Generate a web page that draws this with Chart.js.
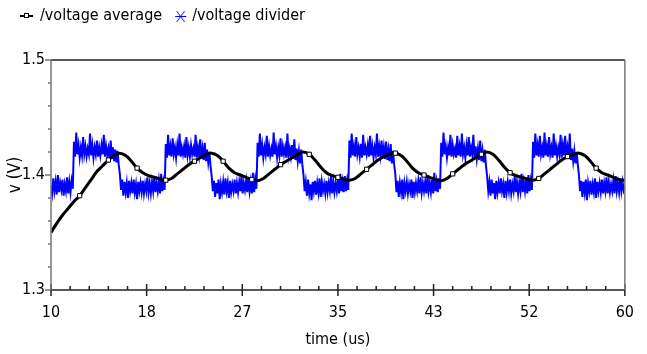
<!DOCTYPE html>
<html lang="en">
  <head>
    <meta charset="UTF-8" />
    <title>voltage average / voltage divider</title>
    <script src="https://cdn.jsdelivr.net/npm/chart.js@4"></script>
    <style>
      body {
        margin: 0;
        background: white;
      }
      #chart {
        display: block;
      }
    </style>
  </head>
  <body>
    <canvas id="chart" width="647" height="354"></canvas>

    <script>
      // axis ticks
      const xMajor = [10, 18.333, 26.667, 35, 43.333, 51.667, 60];
      const xLabels = ["10", "18", "27", "35", "43", "52", "60"];
      const yMajor = [1.3, 1.4, 1.5];
      const yLabels = ["1.3", "1.4", "1.5"];

      // /voltage average, sampled every 0.5 us from 10 us
      const avgStart = 10;
      const avgStep = 0.5;
      const avgVolts = [
        1.350, 1.358, 1.365, 1.371, 1.377, 1.382, 1.389, 1.396, 1.403, 1.408,
        1.413, 1.417, 1.419, 1.417, 1.412, 1.406, 1.402, 1.3995, 1.398, 1.3965,
        1.3955, 1.397, 1.401, 1.405, 1.409, 1.412, 1.415, 1.418, 1.419, 1.417,
        1.412, 1.406, 1.402, 1.400, 1.398, 1.396, 1.395, 1.397, 1.401, 1.405,
        1.409, 1.412, 1.415, 1.418, 1.420, 1.418, 1.413, 1.407, 1.402, 1.3995,
        1.398, 1.3965, 1.3955, 1.397, 1.401, 1.405, 1.409, 1.413, 1.416, 1.418,
        1.419, 1.417, 1.412, 1.406, 1.402, 1.400, 1.398, 1.396, 1.395, 1.397,
        1.401, 1.405, 1.409, 1.412, 1.415, 1.418, 1.420, 1.418, 1.413, 1.407,
        1.402, 1.3995, 1.398, 1.3965, 1.3955, 1.397, 1.401, 1.405, 1.409, 1.413,
        1.416, 1.418, 1.419, 1.417, 1.412, 1.406, 1.402, 1.400, 1.398, 1.396,
        1.3955
      ];

      // /voltage divider, sampled every 0.1 us from 10 us
      const divStart = 10;
      const divStep = 0.1;
      const divVolts = [
        // 10.0 - 11.9
        1.391, 1.384, 1.397, 1.386, 1.394, 1.383, 1.400, 1.385, 1.393, 1.387,
        1.396, 1.382, 1.392, 1.386, 1.398, 1.384, 1.394, 1.385, 1.395, 1.388,
        // 12.0 - 19.9
        1.429, 1.416, 1.437, 1.418, 1.426, 1.415, 1.424, 1.417, 1.433, 1.418,
        1.425, 1.416, 1.423, 1.418, 1.436, 1.417, 1.426, 1.415, 1.424, 1.418,
        1.430, 1.416, 1.424, 1.417, 1.426, 1.418, 1.435, 1.416, 1.425, 1.417,
        1.423, 1.415, 1.430, 1.414, 1.424, 1.412, 1.422, 1.411, 1.421, 1.409,
        1.401, 1.387, 1.396, 1.382, 1.394, 1.385, 1.393, 1.380, 1.395, 1.386,
        1.393, 1.384, 1.396, 1.385, 1.392, 1.379, 1.394, 1.386, 1.393, 1.385,
        1.395, 1.384, 1.392, 1.386, 1.398, 1.385, 1.393, 1.384, 1.394, 1.386,
        1.399, 1.385, 1.393, 1.386, 1.395, 1.384, 1.401, 1.386, 1.394, 1.387,
        // 20.0 - 27.9
        1.427, 1.415, 1.435, 1.417, 1.425, 1.416, 1.432, 1.418, 1.424, 1.415,
        1.426, 1.417, 1.436, 1.416, 1.424, 1.418, 1.425, 1.415, 1.433, 1.417,
        1.424, 1.416, 1.426, 1.418, 1.423, 1.416, 1.435, 1.415, 1.424, 1.417,
        1.431, 1.414, 1.423, 1.413, 1.428, 1.412, 1.422, 1.411, 1.420, 1.408,
        1.399, 1.386, 1.395, 1.381, 1.393, 1.384, 1.396, 1.379, 1.392, 1.385,
        1.394, 1.383, 1.397, 1.386, 1.393, 1.380, 1.395, 1.385, 1.392, 1.386,
        1.396, 1.384, 1.393, 1.385, 1.394, 1.386, 1.400, 1.384, 1.393, 1.387,
        1.395, 1.385, 1.398, 1.386, 1.394, 1.384, 1.402, 1.385, 1.396, 1.388,
        // 28.0 - 35.9
        1.428, 1.416, 1.436, 1.417, 1.426, 1.415, 1.424, 1.418, 1.434, 1.416,
        1.425, 1.417, 1.423, 1.416, 1.437, 1.418, 1.425, 1.415, 1.424, 1.417,
        1.432, 1.416, 1.425, 1.418, 1.424, 1.415, 1.436, 1.417, 1.423, 1.416,
        1.426, 1.414, 1.431, 1.413, 1.423, 1.412, 1.421, 1.410, 1.422, 1.409,
        1.400, 1.386, 1.394, 1.382, 1.396, 1.384, 1.392, 1.378, 1.394, 1.386,
        1.395, 1.383, 1.393, 1.385, 1.397, 1.381, 1.394, 1.386, 1.392, 1.384,
        1.395, 1.385, 1.393, 1.386, 1.399, 1.384, 1.394, 1.385, 1.393, 1.386,
        1.396, 1.384, 1.401, 1.386, 1.394, 1.385, 1.399, 1.386, 1.395, 1.387,
        // 36.0 - 43.9
        1.430, 1.415, 1.436, 1.417, 1.425, 1.416, 1.433, 1.418, 1.424, 1.416,
        1.427, 1.415, 1.435, 1.417, 1.424, 1.418, 1.426, 1.416, 1.434, 1.417,
        1.425, 1.415, 1.424, 1.418, 1.436, 1.416, 1.425, 1.417, 1.430, 1.415,
        1.424, 1.414, 1.429, 1.413, 1.422, 1.412, 1.427, 1.410, 1.421, 1.409,
        1.401, 1.385, 1.395, 1.381, 1.393, 1.385, 1.396, 1.379, 1.393, 1.386,
        1.394, 1.384, 1.392, 1.386, 1.396, 1.380, 1.394, 1.385, 1.393, 1.386,
        1.395, 1.384, 1.398, 1.385, 1.393, 1.386, 1.394, 1.384, 1.400, 1.386,
        1.393, 1.385, 1.396, 1.384, 1.402, 1.386, 1.394, 1.385, 1.397, 1.388,
        // 44.0 - 51.9
        1.428, 1.416, 1.437, 1.418, 1.425, 1.415, 1.424, 1.417, 1.435, 1.416,
        1.426, 1.418, 1.423, 1.415, 1.434, 1.417, 1.425, 1.416, 1.436, 1.418,
        1.424, 1.415, 1.426, 1.417, 1.433, 1.416, 1.424, 1.418, 1.435, 1.415,
        1.425, 1.414, 1.423, 1.413, 1.430, 1.412, 1.421, 1.411, 1.422, 1.408,
        1.399, 1.386, 1.394, 1.382, 1.396, 1.384, 1.393, 1.379, 1.395, 1.385,
        1.393, 1.384, 1.397, 1.386, 1.392, 1.380, 1.395, 1.385, 1.394, 1.386,
        1.396, 1.384, 1.392, 1.386, 1.399, 1.385, 1.394, 1.384, 1.393, 1.386,
        1.401, 1.385, 1.394, 1.386, 1.396, 1.384, 1.400, 1.386, 1.395, 1.387,
        // 52.0 - 59.9
        1.429, 1.415, 1.436, 1.417, 1.426, 1.416, 1.434, 1.418, 1.424, 1.415,
        1.437, 1.417, 1.425, 1.416, 1.433, 1.418, 1.424, 1.415, 1.436, 1.417,
        1.425, 1.416, 1.424, 1.418, 1.435, 1.415, 1.426, 1.417, 1.434, 1.416,
        1.424, 1.414, 1.436, 1.413, 1.423, 1.412, 1.421, 1.410, 1.420, 1.409,
        1.400, 1.386, 1.395, 1.381, 1.394, 1.385, 1.396, 1.378, 1.393, 1.386,
        1.395, 1.383, 1.392, 1.385, 1.397, 1.380, 1.394, 1.386, 1.393, 1.385,
        1.396, 1.384, 1.393, 1.386, 1.398, 1.384, 1.394, 1.385, 1.392, 1.386,
        1.395, 1.384, 1.399, 1.386, 1.393, 1.385, 1.397, 1.386, 1.394, 1.387,
        // 60.0
        1.391
      ];

      const narrowFont = "'Liberation Sans Narrow', 'DejaVu Sans Condensed', sans-serif";
      const condFont = "'DejaVu Sans Condensed', 'DejaVu Sans', sans-serif";

      // small canvases used as legend symbols
      function makeIcon(draw) {
        const c = document.createElement("canvas");
        c.width = 26;
        c.height = 16;
        draw(c.getContext("2d"));
        return c;
      }
      const avgIcon = makeIcon(g => {
        g.strokeStyle = "#000";
        g.lineWidth = 2;
        g.beginPath();
        g.moveTo(8, 8);
        g.lineTo(21, 8);
        g.stroke();
        g.fillStyle = "#fff";
        g.lineWidth = 1;
        g.fillRect(12.5, 5.5, 4, 4);
        g.strokeRect(12.5, 5.5, 4, 4);
      });
      const divIcon = makeIcon(g => {
        g.strokeStyle = "#0000ff";
        g.lineWidth = 1;
        g.beginPath();
        g.moveTo(11, 8.5); g.lineTo(22, 8.5);
        g.moveTo(12.5, 3); g.lineTo(20.5, 14);
        g.moveTo(12.5, 14); g.lineTo(20.5, 3);
        g.stroke();
      });
      const legendIcons = [avgIcon, divIcon];

      // frame round the plot plus major / minor tick marks
      const frameAndTicks = {
        id: "frameAndTicks",
        beforeInit(chart) {
          const fit = chart.legend.fit;
          chart.legend.fit = function () {
            fit.call(this);
            this.height = 60;
          };
        },
        afterDraw(chart) {
          const { ctx, chartArea: a, scales: { x, y } } = chart;
          ctx.save();
          ctx.lineWidth = 1.5;

          ctx.strokeStyle = "#222";
          ctx.beginPath();
          ctx.moveTo(a.left, a.top); ctx.lineTo(a.right, a.top);
          ctx.moveTo(a.left, a.bottom); ctx.lineTo(a.right, a.bottom);
          for (let i = 0; i < xMajor.length; i++) {
            const px = x.getPixelForValue(xMajor[i]);
            ctx.moveTo(px, a.bottom - 6); ctx.lineTo(px, a.bottom + 6);
            if (i < xMajor.length - 1) {
              for (let k = 1; k < 5; k++) {
                const mx = x.getPixelForValue(xMajor[i] + (xMajor[i + 1] - xMajor[i]) * k / 5);
                ctx.moveTo(mx, a.bottom - 4); ctx.lineTo(mx, a.bottom);
              }
            }
          }
          ctx.stroke();

          ctx.strokeStyle = "#777";
          ctx.beginPath();
          ctx.moveTo(a.left, a.top); ctx.lineTo(a.left, a.bottom);
          ctx.moveTo(a.right, a.top); ctx.lineTo(a.right, a.bottom);
          for (let i = 0; i < yMajor.length; i++) {
            const py = y.getPixelForValue(yMajor[i]);
            ctx.moveTo(a.left - 6, py); ctx.lineTo(a.left, py);
            if (i < yMajor.length - 1) {
              for (let k = 1; k < 5; k++) {
                const my = y.getPixelForValue(yMajor[i] + (yMajor[i + 1] - yMajor[i]) * k / 5);
                ctx.moveTo(a.left - 3, my); ctx.lineTo(a.left, my);
              }
            }
          }
          ctx.stroke();
          ctx.restore();
        },
      };

      new Chart(document.getElementById("chart"), {
        type: "line",
        data: {
          datasets: [
            {
              label: "/voltage average",
              data: avgVolts.map((v, i) => ({ x: avgStart + i * avgStep, y: v })),
              borderColor: "#000",
              borderWidth: 3,
              tension: 0.4,
              pointStyle: "rect",
              pointRadius: ctx => (ctx.dataIndex % 5 === 0 && ctx.dataIndex > 0 && ctx.dataIndex < 100 ? 3 : 0),
              pointBackgroundColor: "#fff",
              pointBorderColor: "#000",
              pointBorderWidth: 1,
            },
            {
              label: "/voltage divider",
              data: divVolts.map((v, i) => ({ x: divStart + i * divStep, y: v })),
              borderColor: "#0000ff",
              borderWidth: 2,
              tension: 0,
              pointRadius: 0,
            },
          ],
        },
        options: {
          responsive: false,
          animation: false,
          devicePixelRatio: 1,
          layout: { padding: { left: 10, right: 10, top: 0, bottom: 0 } },
          plugins: {
            tooltip: { enabled: false },
            legend: {
              position: "top",
              align: "start",
              labels: {
                usePointStyle: true,
                pointStyleWidth: 14,
                padding: 8,
                color: "#000",
                font: { family: condFont, size: 16 },
                generateLabels(chart) {
                  const items = Chart.defaults.plugins.legend.labels.generateLabels(chart);
                  items.forEach((it, i) => { it.pointStyle = legendIcons[i]; });
                  return items;
                },
              },
            },
          },
          scales: {
            x: {
              type: "linear",
              min: 10,
              max: 60,
              afterBuildTicks: s => { s.ticks = xMajor.map(v => ({ value: v })); },
              afterFit: s => { s.height = 64; },
              grid: { display: false, drawTicks: false },
              border: { display: false },
              ticks: {
                autoSkip: false,
                maxRotation: 0,
                padding: 13,
                color: "#000",
                font: { family: narrowFont, size: 16 },
                callback: (v, i) => xLabels[i],
              },
              title: {
                display: true,
                text: "time (us)",
                color: "#000",
                font: { family: condFont, size: 16 },
                padding: { top: 0, bottom: 5 },
              },
            },
            y: {
              min: 1.3,
              max: 1.5,
              afterBuildTicks: s => { s.ticks = yMajor.map(v => ({ value: v })); },
              afterFit: s => { s.width = 41; },
              grid: { display: false, drawTicks: false },
              border: { display: false },
              ticks: {
                padding: 6,
                color: "#000",
                font: { family: narrowFont, size: 16 },
                callback: (v, i) => yLabels[i],
              },
              title: {
                display: true,
                text: "v (V)",
                color: "#000",
                font: { family: condFont, size: 17, lineHeight: 1 },
                padding: { top: -3, bottom: 0 },
              },
            },
          },
        },
        plugins: [frameAndTicks],
      });
    </script>
  </body>
</html>
